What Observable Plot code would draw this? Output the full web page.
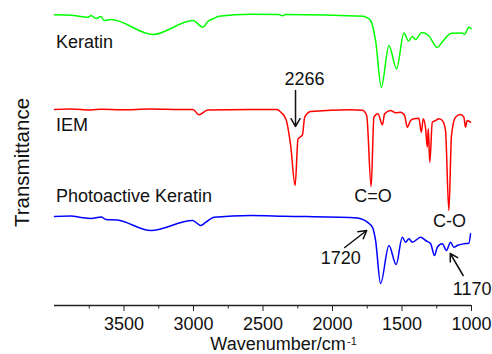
<!DOCTYPE html>
<html>
<head>
<meta charset="utf-8">
<script src="https://cdn.jsdelivr.net/npm/d3@7"></script>
<script src="https://cdn.jsdelivr.net/npm/@observablehq/plot@0.6"></script>
<style>
  html, body { margin: 0; padding: 0; background: #fff; }
</style>
</head>
<body>
<div id="chart"></div>
<script>
// Wavenumbers (cm^-1) and transmittance (a.u., vertically offset) for each spectrum
const keratinWn = [4000, 3881, 3759, 3737, 3701, 3665, 3644, 3593, 3292, 3004, 2932, 2897, 2853, 2818, 2588, 2386, 2360, 2336, 1776, 1754, 1726, 1690, 1649, 1594, 1539, 1486, 1453, 1426, 1402, 1359, 1309, 1246, 1216, 1144, 1067, 1050, 1019, 1002];
const keratinT  = [290.7, 290.3, 288.3, 290, 287, 289, 285, 286, 271, 285, 278.3, 284, 287, 289.3, 291.3, 291, 289.7, 291, 289.3, 288, 285, 265, 218.3, 260, 236.7, 272.5, 264.5, 269, 266, 273, 270, 258, 262.5, 272.3, 272.5, 271, 278.3, 276.7];

const iemWn = [4000, 3881, 3737, 3665, 3520, 3306, 3100, 3004, 2961, 2897, 2588, 2400, 2372, 2336, 2301, 2269, 2248, 2234, 2216, 2200, 2157, 1870, 1785, 1754, 1722, 1702, 1673, 1641, 1625, 1582, 1546, 1510, 1481, 1462, 1438, 1414, 1379, 1361, 1347, 1330, 1318, 1311, 1300, 1282, 1259, 1235, 1210, 1187, 1163, 1144, 1115, 1079, 1055, 1043, 1031, 1007];
const iemT  = [196, 196.5, 195.5, 196.3, 195.7, 196.5, 196, 196, 190.7, 195.5, 196, 196, 193.3, 186.7, 160, 120, 166.7, 168.3, 170.7, 188.3, 194, 195.7, 195.3, 190, 119, 188.3, 191.7, 180.7, 191.7, 195, 192.7, 193.3, 190, 178.3, 185, 186.7, 187.3, 173.3, 186.7, 176.7, 158.3, 176.7, 143.3, 183.3, 185, 186.7, 185, 175, 95, 170, 188.3, 191, 188.3, 178.3, 185, 183.3];

const photoWn = [4000, 3881, 3809, 3737, 3665, 3629, 3550, 3306, 3007, 2947, 2911, 2851, 2588, 2348, 1846, 1797, 1749, 1713, 1690, 1654, 1594, 1542, 1498, 1474, 1450, 1426, 1366, 1330, 1294, 1266, 1246, 1210, 1180, 1151, 1127, 1103, 1055, 1019, 1007];
const photoT  = [89, 89.5, 88, 87, 88.5, 86, 85.5, 75, 85, 80, 83.3, 88.3, 90, 89.3, 87.7, 86.7, 83.3, 78.3, 65, 22, 60, 41, 68.3, 63.3, 66.7, 63.3, 68.3, 65, 61.7, 50, 58.3, 61.7, 55, 63.3, 58.3, 60, 61.7, 62.3, 71.7];

const seriesNames  = ["Keratin", "IEM", "Photoactive Keratin"];
const seriesColors = ["#00ff00", "#ff0000", "#0000ff"];
const seriesLabelWn = [3989, 3989, 3989];
const seriesLabelT  = [262.8, 179.8, 109.1];

// Peak annotations
const annText = ["2266", "C=O", "C-O", "1720", "1170"];
const annWn   = [2202, 1708, 1158, 1941, 995];
const annT    = [225.8, 108.8, 84, 46.8, 15.8];

// Arrows: from (wn1, T1) to (wn2, T2)
const arrowWn1 = [2266, 1912, 1060];
const arrowT1  = [215, 58, 30];
const arrowWn2 = [2266, 1754, 1153];
const arrowT2  = [179, 75, 52];

const majorTicks = [3500, 3000, 2500, 2000, 1500, 1000];
const minorTicks = [3750, 3250, 2750, 2250, 1750, 1250];

const spectra = [
  {wn: keratinWn, t: keratinT},
  {wn: iemWn, t: iemT},
  {wn: photoWn, t: photoT}
];
const lineData = spectra.flatMap((s, i) => s.wn.map((w, j) => ({wn: w, t: s.t[j], name: seriesNames[i]})));
const labelData = seriesNames.map((n, i) => ({name: n, wn: seriesLabelWn[i], t: seriesLabelT[i]}));
const annData = annText.map((s, i) => ({s, wn: annWn[i], t: annT[i]}));
const arrowData = arrowWn1.map((w, i) => ({x1: w, y1: arrowT1[i], x2: arrowWn2[i], y2: arrowT2[i]}));

const FONT = "'Liberation Sans', Arial, sans-serif";

const chart = Plot.plot({
  width: 492,
  height: 354,
  marginLeft: 54,
  marginRight: 21,
  marginTop: 5,
  marginBottom: 49,
  style: {fontFamily: FONT, background: "#fff", color: "#111"},
  x: {domain: [4000, 1000], axis: null},
  y: {domain: [0, 300], axis: null},
  color: {domain: seriesNames, range: seriesColors},
  marks: [
    Plot.ruleY([0], {stroke: "#222", strokeWidth: 1.3}),
    Plot.axisX({ticks: majorTicks, tickSize: 6, tickPadding: 6, tickFormat: d => String(d), fontSize: 18, label: null, stroke: "#222"}),
    Plot.axisX({ticks: minorTicks, tickSize: 3.5, tickFormat: () => "", label: null, stroke: "#222"}),
    Plot.line(lineData, {x: "wn", y: "t", z: "name", stroke: "name", strokeWidth: 1.5, curve: "monotone-x"}),
    Plot.text(labelData, {x: "wn", y: "t", text: "name", textAnchor: "start", fontSize: 18, fill: "#111"}),
    Plot.text(annData, {x: "wn", y: "t", text: "s", textAnchor: "middle", fontSize: 18, fill: "#111"}),
    Plot.arrow(arrowData, {x1: "x1", y1: "y1", x2: "x2", y2: "y2", stroke: "#111", strokeWidth: 1.5, headLength: 9}),
    Plot.text(["Transmittance"], {frameAnchor: "left", lineAnchor: "middle", rotate: -90, dx: -32, dy: 7, textAnchor: "middle", fontSize: 20.5, fill: "#111"}),
    Plot.text(["Wavenumber/cm"], {frameAnchor: "bottom", lineAnchor: "middle", dx: 15, dy: 39, textAnchor: "middle", fontSize: 18, fill: "#111"}),
    Plot.text(["-1"], {frameAnchor: "bottom", lineAnchor: "middle", dx: 84, dy: 35.5, textAnchor: "start", fontSize: 11, fill: "#111"})
  ]
});
document.getElementById("chart").appendChild(chart);
</script>
</body>
</html>
